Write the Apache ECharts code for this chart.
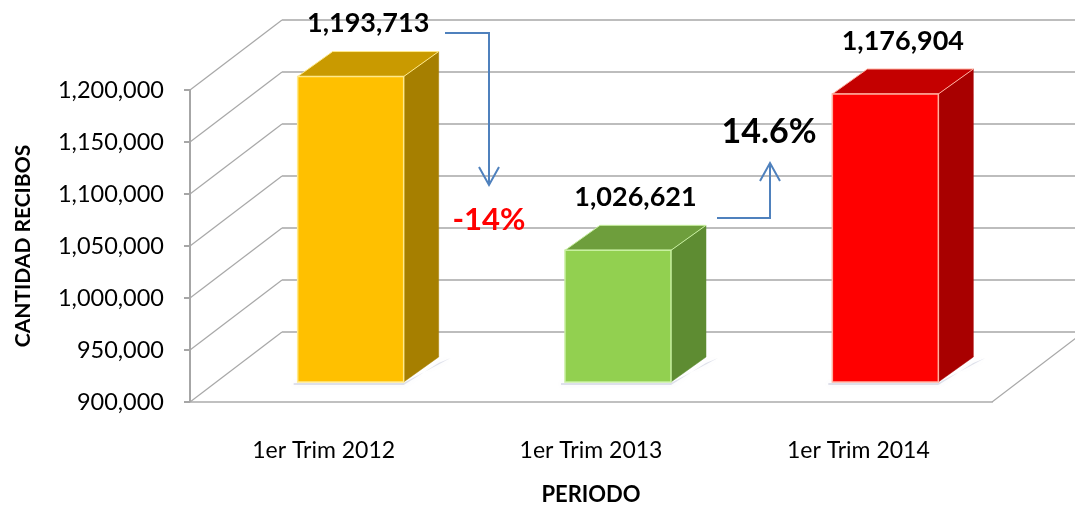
<!DOCTYPE html>
<html>
<head>
<meta charset="utf-8">
<script src="https://cdn.jsdelivr.net/npm/echarts@6/dist/echarts.min.js"></script>
<style>
  html, body { margin: 0; padding: 0; background: #fff; }
  #chart { width: 1075px; height: 508px; }
</style>
</head>
<body>
<div id="chart"></div>
<script>
// datos del grafico
var periodos = ['1er Trim 2012', '1er Trim 2013', '1er Trim 2014'];
var recibos = [1193713, 1026621, 1176904];
var yTicks = [900000, 950000, 1000000, 1050000, 1100000, 1150000, 1200000];
var variaciones = ['-14%', '14.6%'];

// colores de cada barra: frente, lado, tapa, borde
var colores = [
  { front: '#FFC000', side: '#A67F00', top: '#C99A00', edge: '#FFE98A' },
  { front: '#92D050', side: '#5E8C32', top: '#6E9E3C', edge: '#C8F0A0' },
  { front: '#FF0000', side: '#A80000', top: '#C40000', edge: '#FFB0A0' }
];

var FONT = 'Lato';
var DEPTH_X = 92, DEPTH_Y = -70;   // profundidad del piso
var OFF_X = 27, OFF_Y = -20;       // plano frontal de las barras
var BAR_W = 106, BAR_DX = 35, BAR_DY = -25;

var chart = echarts.init(document.getElementById('chart'));

function fmt(v) { return v.toLocaleString('en-US'); }

var option = {
  backgroundColor: '#fff',
  animation: false,
  grid: { left: 190, right: 83, top: 90, bottom: 106, outerBoundsMode: 'none', containLabel: false },
  xAxis: {
    type: 'category',
    data: periodos,
    axisLine: { show: true, lineStyle: { color: '#c0c0c0', width: 2 } },
    axisTick: { show: false },
    axisLabel: { fontFamily: FONT, fontSize: 23, color: '#000', margin: 37 },
    name: 'PERIODO',
    nameLocation: 'middle',
    nameGap: 82,
    nameTextStyle: { fontFamily: FONT, fontSize: 22, fontWeight: 'bold', color: '#000' }
  },
  yAxis: {
    type: 'value',
    min: 900000,
    max: 1200000,
    interval: 50000,
    axisLine: { show: true, lineStyle: { color: '#a6a6a6', width: 2 } },
    axisTick: { show: true, length: 6, lineStyle: { color: '#a6a6a6', width: 2 } },
    splitLine: { show: false },
    axisLabel: {
      fontFamily: FONT, fontSize: 23.5, color: '#000', margin: 26,
      formatter: function (v) { return fmt(v); }
    },
    name: 'CANTIDAD RECIBOS',
    nameLocation: 'middle',
    nameRotate: 90,
    nameGap: 156,
    nameTextStyle: { fontFamily: FONT, fontSize: 21, fontWeight: 'bold', color: '#000' }
  },
  series: [
    {
      // paredes: lineas de division en diagonal y en la pared del fondo
      type: 'custom',
      z: 1,
      silent: true,
      data: yTicks.map(function (v) { return [0, v]; }),
      renderItem: function (params, api) {
        var cs = params.coordSys;
        var y = api.coord([0, api.value(1)])[1];
        var left = cs.x, right = cs.x + cs.width;
        var children = [
          {
            type: 'polyline',
            shape: { points: [[left, y], [left + DEPTH_X, y + DEPTH_Y]] },
            style: { stroke: '#a8a8a8', lineWidth: 1.2, fill: null }
          },
          {
            type: 'polyline',
            shape: { points: [[left + DEPTH_X, y + DEPTH_Y], [right + DEPTH_X, y + DEPTH_Y]] },
            style: { stroke: '#bdbdbd', lineWidth: 2.2, fill: null }
          }
        ];
        if (params.dataIndex === 0) {
          children.push({
            type: 'polyline',
            shape: { points: [[right, y], [right + DEPTH_X, y + DEPTH_Y]] },
            style: { stroke: '#a8a8a8', lineWidth: 1.2, fill: null }
          });
        }
        return { type: 'group', children: children };
      }
    },
    {
      // barras en 3D
      type: 'custom',
      z: 3,
      data: recibos.map(function (v, i) { return [i, v]; }),
      renderItem: function (params, api) {
        var i = api.value(0);
        var base = api.coord([i, 900000]);
        var top = api.coord([i, api.value(1)]);
        var c = colores[i];
        var x0 = base[0] + OFF_X - BAR_W / 2, x1 = x0 + BAR_W;
        var yb = base[1] + OFF_Y, yt = top[1] + OFF_Y;
        return {
          type: 'group',
          children: [
            {
              type: 'polygon',
              shape: { points: [[x0 - 4, yb + 1], [x1, yb + 1], [x1 + BAR_DX + 12, yb + BAR_DY + 1], [x1 + BAR_DX, yb + BAR_DY + 6], [x1, yb + 3], [x0 - 4, yb + 3]] },
              style: { fill: 'rgba(130,140,180,0.25)', shadowBlur: 5, shadowColor: 'rgba(130,140,180,0.4)' }
            },
            {
              type: 'polygon',
              shape: { points: [[x1, yt], [x1 + BAR_DX, yt + BAR_DY], [x1 + BAR_DX, yb + BAR_DY], [x1, yb]] },
              style: { fill: c.side, stroke: c.side, lineWidth: 0.5 }
            },
            {
              type: 'polygon',
              shape: { points: [[x0, yt], [x0 + BAR_DX, yt + BAR_DY], [x1 + BAR_DX, yt + BAR_DY], [x1, yt]] },
              style: { fill: c.top, stroke: c.edge, lineWidth: 1 }
            },
            {
              type: 'rect',
              shape: { x: x0, y: yt, width: BAR_W, height: yb - yt },
              style: { fill: c.front, stroke: c.edge, lineWidth: 1.5 }
            },
            {
              type: 'text',
              style: {
                x: (x0 + x1) / 2 + BAR_DX / 2,
                y: yt + BAR_DY - 28,
                text: fmt(api.value(1)),
                fontFamily: FONT, fontSize: 27, fontWeight: 'bold',
                fill: '#000', align: 'center', verticalAlign: 'middle'
              }
            }
          ]
        };
      }
    }
  ],
  graphic: [
    // flecha de baja
    { type: 'polyline', shape: { points: [[445, 33], [489, 33], [489, 185]] }, style: { stroke: '#4F81BD', lineWidth: 2, fill: null }, z: 10 },
    { type: 'polyline', shape: { points: [[479, 167], [489, 185], [499, 167]] }, style: { stroke: '#4F81BD', lineWidth: 2, fill: null }, z: 10 },
    { type: 'text', x: 489, y: 220, style: { text: variaciones[0], fontFamily: FONT, fontSize: 31, fontWeight: 'bold', fill: '#FF0000', align: 'center', verticalAlign: 'middle' }, z: 10 },
    // flecha de alza
    { type: 'polyline', shape: { points: [[717, 218], [770, 218], [770, 163]] }, style: { stroke: '#4F81BD', lineWidth: 2, fill: null }, z: 10 },
    { type: 'polyline', shape: { points: [[760, 181], [770, 163], [780, 181]] }, style: { stroke: '#4F81BD', lineWidth: 2, fill: null }, z: 10 },
    { type: 'text', x: 769, y: 132, style: { text: variaciones[1], fontFamily: FONT, fontSize: 34, fontWeight: 'bold', fill: '#000', align: 'center', verticalAlign: 'middle' }, z: 10 }
  ]
};

chart.setOption(option);
</script>
</body>
</html>
